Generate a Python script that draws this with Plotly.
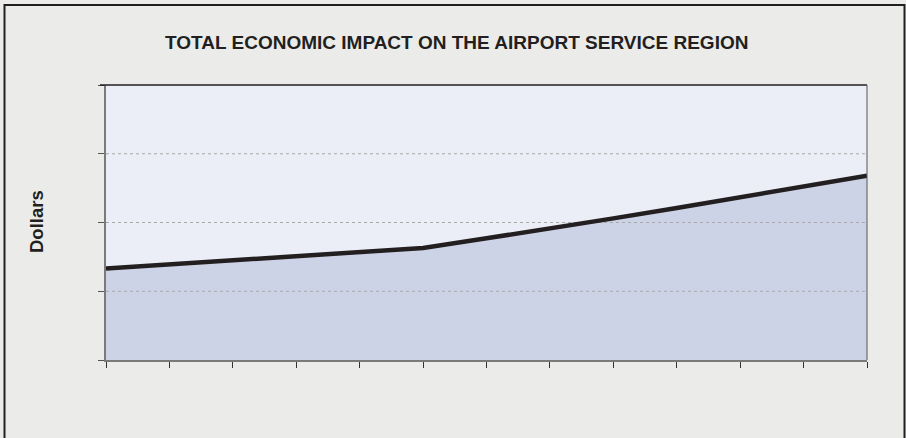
import plotly.graph_objects as go

# Data (relative units; axis shows no numeric labels)
periods = list(range(13))
impact = [1.33, 1.39, 1.45, 1.51, 1.57, 1.63, 1.77, 1.91, 2.06, 2.21, 2.37, 2.52, 2.68]
y_ticks = [0, 1, 2, 3, 4]
grid_levels = [1, 2, 3]

title_text = "TOTAL ECONOMIC IMPACT ON THE AIRPORT SERVICE REGION"
y_label = "Dollars"

W, H = 906, 438
L, R, T, B = 106, 39, 85, 78
pw, ph = W - L - R, H - T - B


def px_x(x):
    return (x - L) / pw


def px_y(y):
    return (H - B - y) / ph


fig = go.Figure()
# filled area (no outline)
fig.add_trace(go.Scatter(
    x=periods, y=impact, mode="lines", fill="tozeroy",
    fillcolor="#CDD3E6", line=dict(width=0, color="#CDD3E6"),
    hoverinfo="skip", showlegend=False,
))
# dotted gridlines drawn above the fill
for g in grid_levels:
    fig.add_trace(go.Scatter(
        x=[periods[0], periods[-1]], y=[g, g], mode="lines",
        line=dict(color="#A9A9A9", width=1, dash="dot"),
        hoverinfo="skip", showlegend=False,
    ))
# the main line
fig.add_trace(go.Scatter(
    x=periods, y=impact, mode="lines",
    line=dict(color="#231F20", width=4.5),
    hoverinfo="skip", showlegend=False,
))

fig.update_layout(
    width=W, height=H,
    margin=dict(l=L, r=R, t=T, b=B, pad=0),
    paper_bgcolor="#EBECEA",
    plot_bgcolor="#EBEEF7",
    showlegend=False,
    xaxis=dict(
        range=[0, 12], tickvals=periods, showticklabels=False,
        ticks="outside", ticklen=6, tickcolor="#333333", tickwidth=1,
        showgrid=False, zeroline=False,
        showline=True, linecolor="#7A7A7A", linewidth=2,
    ),
    yaxis=dict(
        range=[0, 4], tickvals=y_ticks, showticklabels=False,
        ticks="outside", ticklen=6, tickcolor="#555555", tickwidth=1,
        showgrid=False, zeroline=False,
        showline=True, linecolor="#7A7A7A", linewidth=2,
    ),
    shapes=[
        dict(type="line", xref="paper", yref="paper", x0=px_x(100), x1=1, y0=1, y1=1,
             line=dict(color="#231F20", width=1.5)),
        dict(type="line", xref="paper", yref="paper", x0=1, x1=1, y0=0, y1=1,
             line=dict(color="#555555", width=1)),
        dict(type="rect", xref="paper", yref="paper",
             x0=px_x(4.5), x1=px_x(904.5), y0=px_y(5), y1=px_y(460),
             line=dict(color="#231F20", width=2), layer="above"),
    ],
    annotations=[
        dict(text=f"<b>{title_text}</b>", xref="paper", yref="paper",
             x=px_x(456), y=px_y(43), xanchor="center", yanchor="middle",
             showarrow=False,
             font=dict(family="Liberation Sans, Arial, sans-serif", size=19, color="#231F20")),
        dict(text=f"<b>{y_label}</b>", xref="paper", yref="paper",
             x=px_x(36), y=px_y(222), xanchor="center", yanchor="middle",
             textangle=-90, showarrow=False,
             font=dict(family="Liberation Sans, Arial, sans-serif", size=18.5, color="#231F20")),
    ],
)

fig.write_html(
    "out.html",
    config={"displayModeBar": False, "staticPlot": True},
    post_script="document.body.style.margin='0';document.body.style.overflow='hidden';",
)
